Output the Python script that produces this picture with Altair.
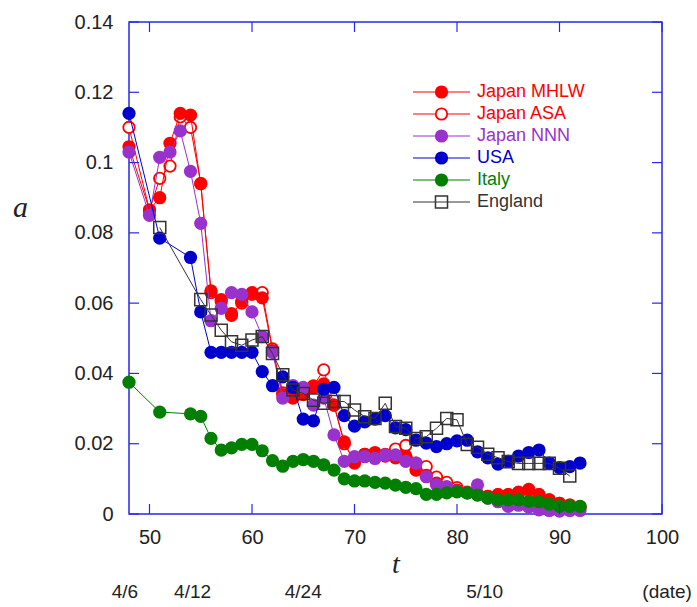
import altair as alt
import pandas as pd

# ---------------- data ----------------
T = list(range(48, 93))

mhlw = [0.1045, None, 0.0865, 0.0900, 0.1055, 0.1140, 0.1135, 0.0940, 0.0635, 0.0610,
        0.0565, 0.0605, 0.0630, 0.0615, 0.0465, 0.0340, 0.0330, 0.0340, 0.0360, 0.0370,
        0.0310, 0.0205, 0.0145, 0.0170, 0.0175, 0.0165, 0.0160, 0.0165, 0.0125, 0.0110,
        0.0088, 0.0075, 0.0068, 0.0060, 0.0055, 0.0050, 0.0055, 0.0055, 0.0060, 0.0070,
        0.0055, 0.0040, 0.0030, 0.0025, 0.0020]
asa = [0.1100, None, 0.0865, 0.0955, 0.0990, 0.1130, 0.1100, 0.0940, 0.0630, 0.0605,
       0.0570, 0.0600, 0.0625, 0.0630, 0.0470, 0.0345, 0.0335, 0.0345, 0.0365, 0.0410,
       0.0310, 0.0200, 0.0150, 0.0170, 0.0170, 0.0170, 0.0185, 0.0195, 0.0145, 0.0135,
       0.0105, 0.0090, 0.0075, 0.0062, 0.0058, 0.0050, 0.0055, 0.0055, 0.0062, 0.0068,
       0.0055, 0.0040, 0.0030, 0.0025, 0.0020]
nnn = [0.1030, None, 0.0850, 0.1015, 0.1030, 0.1090, 0.0975, 0.0827, 0.0550, 0.0585,
       0.0630, 0.0625, 0.0575, 0.0505, 0.0460, 0.0330, 0.0365, 0.0360, 0.0310, 0.0330,
       0.0225, 0.0150, 0.0163, 0.0163, 0.0158, 0.0168, 0.0168, 0.0150, 0.0145, 0.0106,
       0.0083, 0.0078, 0.0065, 0.0060, 0.0083, 0.0045, 0.0035, 0.0022, 0.0025, 0.0020,
       0.0012, 0.0010, 0.0008, 0.0010, 0.0010]
usa = [0.1140, None, None, 0.0785, None, None, 0.0730, 0.0575, 0.0460, 0.0460,
       0.0460, 0.0460, 0.0460, 0.0405, 0.0365, 0.0390, 0.0360, 0.0270, 0.0265, 0.0355,
       0.0360, 0.0280, 0.0250, 0.0262, 0.0270, 0.0280, 0.0245, 0.0240, 0.0210, 0.0202,
       0.0192, 0.0200, 0.0208, 0.0210, 0.0177, 0.0160, 0.0142, 0.0150, 0.0165, 0.0175,
       0.0182, 0.0145, 0.0132, 0.0135, 0.0145]
italy = [0.0375, None, None, 0.0290, None, None, 0.0285, 0.0278, 0.0215, 0.0182,
         0.0188, 0.0198, 0.0198, 0.0180, 0.0152, 0.0136, 0.0150, 0.0155, 0.0150, 0.0140,
         0.0125, 0.0100, 0.0094, 0.0094, 0.0090, 0.0088, 0.0082, 0.0076, 0.0072, 0.0056,
         0.0056, 0.0060, 0.0063, 0.0060, 0.0054, 0.0045, 0.0040, 0.0040, 0.0040, 0.0036,
         0.0035, 0.0028, 0.0022, 0.0022, 0.0022]
england = [None, None, None, 0.0815, None, None, None, 0.0610, 0.0566, 0.0523,
           0.0490, 0.0480, 0.0495, 0.0505, 0.0457, 0.0396, 0.0353, 0.0343, 0.0324, 0.0315,
           0.0320, 0.0320, 0.0296, 0.0277, 0.0272, 0.0315, 0.0249, 0.0244, 0.0215, 0.0220,
           0.0244, 0.0272, 0.0268, 0.0198, 0.0190, 0.0170, 0.0160, 0.0149, 0.0144, 0.0144,
           0.0144, 0.0144, 0.0130, 0.0108, None]

SERIES = ["Japan MHLW", "Japan ASA", "Japan NNN", "USA", "Italy", "England"]
VALUES = [mhlw, asa, nnn, usa, italy, england]
DRAW_ORDER = ["Japan ASA", "Japan MHLW", "Japan NNN", "USA", "Italy", "England"]

X_TICKS = [50, 60, 70, 80, 90, 100]
Y_TICKS = [0, 0.02, 0.04, 0.06, 0.08, 0.1, 0.12, 0.14]
DATE_LABELS = ["4/6", "4/12", "4/24", "5/10", "(date)"]
DATE_POS = [47.6, 54.2, 65.0, 82.7, 100.5]

# ---------------- styles ----------------
FRAME = "#2727EE"
TEXT = "#222222"
SANS = "Liberation Sans"
SERIF = "Liberation Serif"
STYLE = {
    "Japan MHLW": dict(color="#FF0000", kind="filled"),
    "Japan ASA": dict(color="#FF0000", kind="open"),
    "Japan NNN": dict(color="#9932CC", kind="filled"),
    "USA": dict(color="#0000CD", kind="filled"),
    "Italy": dict(color="#007F00", kind="filled"),
    "England": dict(color="#333333", kind="square"),
}
W, H = 533, 492

xscale = alt.Scale(domain=[48, 100], nice=False, zero=False)
yscale = alt.Scale(domain=[0, 0.14], nice=False)
xaxis = alt.Axis(values=X_TICKS, ticks=False, domain=False, grid=False, labelFlush=False,
                 labelFont=SANS, labelFontSize=20, labelColor=TEXT, labelPadding=13,
                 title="t", titleFont=SERIF, titleFontStyle="italic", titleFontWeight="normal",
                 titleFontSize=28, titleColor=TEXT, titlePadding=3)
yaxis = alt.Axis(values=Y_TICKS, format="~g", ticks=False, domain=False, grid=False,
                 labelFlush=False,
                 labelFont=SANS, labelFontSize=20, labelColor=TEXT, labelPadding=16,
                 title="a", titleFont=SERIF, titleFontStyle="italic", titleFontWeight="normal",
                 titleFontSize=30, titleColor=TEXT, titleAngle=0, titleX=-109, titleY=185,
                 titleAlign="center", titleBaseline="middle")

X = alt.X("t:Q", scale=xscale, axis=xaxis)
Y = alt.Y("a:Q", scale=yscale, axis=yaxis)


def point_mark(style):
    c = style["color"]
    if style["kind"] == "filled":
        return dict(shape="circle", filled=True, color=c, size=175,
                    opacity=1, strokeWidth=0)
    if style["kind"] == "open":
        return dict(shape="circle", filled=True, fill="white", stroke=c, strokeWidth=1.8,
                    size=130, opacity=1)
    return dict(shape="square", filled=False, stroke=c, strokeWidth=1.5,
                size=145, opacity=1)


data_by_name = dict(zip(SERIES, VALUES))
layers = []
for name in DRAW_ORDER:
    df = pd.DataFrame({"t": T, "a": data_by_name[name]}).dropna()
    st = STYLE[name]
    base = alt.Chart(df).encode(x=X, y=Y)
    layers.append(base.mark_line(color=st["color"], strokeWidth=1))
    layers.append(base.mark_point(**point_mark(st)))

# inward ticks on all four sides
xt = pd.DataFrame({"t": X_TICKS})
yt = pd.DataFrame({"a": Y_TICKS})
layers.append(alt.Chart(xt).mark_rule(color=FRAME, strokeWidth=1.2).encode(
    x=X, y=alt.value(H), y2=alt.value(H - 10)))
layers.append(alt.Chart(xt).mark_rule(color=FRAME, strokeWidth=1.2).encode(
    x=X, y=alt.value(0), y2=alt.value(10)))
layers.append(alt.Chart(yt).mark_rule(color=FRAME, strokeWidth=1.2).encode(
    y=Y, x=alt.value(0), x2=alt.value(10)))
layers.append(alt.Chart(yt).mark_rule(color=FRAME, strokeWidth=1.2).encode(
    y=Y, x=alt.value(W), x2=alt.value(W - 10)))

# date labels under the axis
dates = pd.DataFrame({"t": DATE_POS, "label": DATE_LABELS})
layers.append(alt.Chart(dates).mark_text(font=SANS, fontSize=19, color=TEXT,
                                         baseline="middle", align="center").encode(
    x=X, y=alt.value(570), text="label:N"))

main = alt.layer(*layers)

# legend
LEG_Y = alt.Scale(domain=SERIES, range=[59, 191], padding=0)
leg_layers = []
for name in SERIES:
    st = STYLE[name]
    ldf = pd.DataFrame({"series": [name]})
    ly = alt.Y("series:N", scale=LEG_Y, axis=None)
    lb = alt.Chart(ldf)
    leg_layers.append(lb.mark_rule(color=st["color"], strokeWidth=1).encode(
        y=ly, x=alt.value(284), x2=alt.value(341)))
    leg_layers.append(lb.mark_point(**point_mark(st)).encode(y=ly, x=alt.value(312.5)))
    leg_layers.append(lb.mark_text(font=SANS, fontSize=18, color=st["color"],
                                   align="left", baseline="middle").encode(
        y=ly, x=alt.value(348), text="series:N"))
legend = alt.layer(*leg_layers)

chart = alt.layer(main, legend).resolve_scale(y="independent").properties(
    width=W, height=H,
    autosize=alt.AutoSizeParams(type="none"),
    padding={"left": 129, "top": 22, "right": 35, "bottom": 93},
    background="white",
).configure_view(stroke=FRAME, strokeWidth=1.5)

chart.save("out.html", embed_options={"renderer": "svg", "actions": False})
